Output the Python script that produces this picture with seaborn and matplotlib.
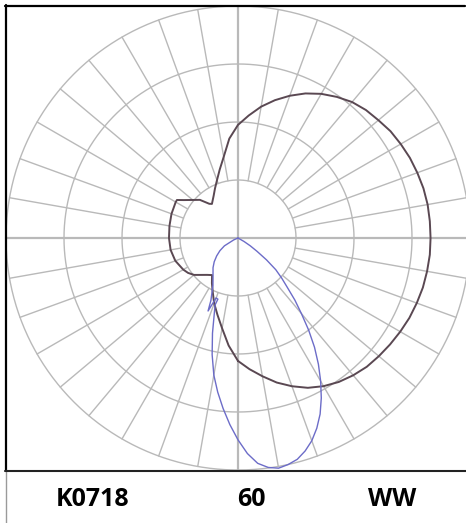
import numpy as np
import pandas as pd
import matplotlib
matplotlib.use("Agg")
import matplotlib.pyplot as plt
from matplotlib.lines import Line2D
import seaborn as sns

sns.set_style("white")
plt.rcParams['font.family'] = ['Open Sans', 'DejaVu Sans']

# ---- data (gamma angle in degrees: + = right half, - = left half; intensity in ring units) ----
dark_theta = [0, 5, 10, 15, 20, 25, 30, 35, 40, 45, 50, 55, 60, 65, 70, 75, 80, 85, 90, 95, 100,
              105, 110, 115, 120, 125, 130, 135, 140, 145, 150, 155, 160, 165, 170, 175, 180,
              -175, -170, -165, -160, -155, -150, -142.6, -140, -135, -130, -125, -121.9, -120,
              -110, -100, -90, -80, -70, -60, -55, -50, -45, -40, -35, -30, -25, -20, -15, -10,
              -5, 0]
dark_r = [2.12, 2.27, 2.42, 2.58, 2.72, 2.85, 2.95, 3.03, 3.09, 3.14, 3.17, 3.20, 3.23, 3.26, 3.28,
          3.30, 3.31, 3.32, 3.32, 3.32, 3.32, 3.31, 3.29, 3.27, 3.24, 3.21, 3.16, 3.12, 3.06, 2.97,
          2.87, 2.75, 2.61, 2.46, 2.30, 2.12, 1.95,
          1.72, 1.42, 1.22, 1.06, 0.94, 0.84, 0.74, 0.77, 0.93, 1.02, 1.14, 1.24, 1.24,
          1.22, 1.20, 1.19, 1.18, 1.15, 1.09, 1.05, 0.99, 0.90, 0.83, 0.78, 0.90, 1.03, 1.20,
          1.37, 1.58, 1.86, 2.12]

blue_theta = [62, 60, 57.5, 55, 52.5, 50, 47.5, 45, 42.5, 40, 37.5, 35, 32.5, 30, 27.5, 25, 22.5,
              20, 17.5, 15, 12.5, 10, 7.5, 5, 2.5, 0, -2.5, -5, -7.5, -10, -12.5, -15,
              -18.9, -18.2, -20.1, -22.3, -23.5, -28, -34, -40, -45, -50, -55, -60, -66, -68]
blue_r = [0.0, 0.12, 0.25, 0.40, 0.62, 0.85, 1.02, 1.20, 1.45, 1.70, 2.00, 2.30, 2.58, 2.85, 3.11,
          3.35, 3.55, 3.72, 3.85, 3.95, 4.00, 4.03, 3.99, 3.90, 3.72, 3.48, 3.22, 2.95, 2.68, 2.40,
          2.06, 1.70,
          1.22, 1.11, 1.10, 1.36, 1.17, 0.92, 0.77, 0.67, 0.58, 0.48, 0.38, 0.27, 0.08, 0.0]

labels = ["K0718", "60", "WW"]

ring_values = [1, 2, 3, 4]
spoke_step_deg = 10

# ---- figure ----
W, H = 466, 523
fig = plt.figure(figsize=(W / 100, H / 100), dpi=100)

cx, cy = 238.0, 238.0          # centre in px
ring_px = 58.0                 # px per ring unit
rmax = 4.1
half = rmax * ring_px
ax = fig.add_axes([(cx - half) / W, 1 - (cy + half) / H, 2 * half / W, 2 * half / H],
                  projection='polar')
ax.set_theta_zero_location('S')
ax.set_theta_direction(1)
ax.set_ylim(0, rmax)
ax.set_axis_off()

grid_col = '#b9b9b9'
full = np.linspace(0, 2 * np.pi, 721)
for rv in ring_values:
    ax.plot(full, np.full_like(full, rv), color=grid_col, lw=1.0, zorder=1)
for d in range(0, 360, spoke_step_deg):
    t = np.deg2rad(d)
    if d % 90 == 0:
        ax.plot([t, t], [0, 4.0], color=grid_col, lw=1.6, zorder=1)
    else:
        ax.plot([t, t], [1, 4.0], color=grid_col, lw=1.0, zorder=1)

dark_df = pd.DataFrame({"theta": np.deg2rad(dark_theta), "r": dark_r})
blue_df = pd.DataFrame({"theta": np.deg2rad(blue_theta), "r": blue_r})
sns.lineplot(data=dark_df, x="theta", y="r", sort=False, estimator=None, ax=ax,
             color='#5a4852', linewidth=1.4, zorder=3)
sns.lineplot(data=blue_df, x="theta", y="r", sort=False, estimator=None, ax=ax,
             color='#6c6cc8', linewidth=1.0, zorder=4)
ax.set_xlabel("")
ax.set_ylabel("")
ax.set_ylim(0, rmax)


def fx(x):
    return x / W


def fy(y):
    return 1 - y / H


# frame lines
fig.add_artist(Line2D([fx(5), fx(465)], [fy(5.5), fy(5.5)], color='black', lw=1.6,
                      transform=fig.transFigure, zorder=10))
fig.add_artist(Line2D([fx(5.5), fx(5.5)], [fy(5), fy(470)], color='black', lw=1.6,
                      transform=fig.transFigure, zorder=10))
fig.add_artist(Line2D([fx(5.5), fx(5.5)], [fy(470), fy(523)], color='#9a9a9a', lw=1.0,
                      transform=fig.transFigure, zorder=10))
fig.add_artist(Line2D([fx(5), fx(466)], [fy(470.5), fy(470.5)], color='#222222', lw=1.5,
                      transform=fig.transFigure, zorder=10))

# bottom labels
for lab, xp in zip(labels, [93, 251, 392]):
    fig.text(fx(xp), fy(499), lab, ha='center', va='center', fontsize=18,
             fontweight='bold', color='black')

fig.savefig("out.png", dpi=100, facecolor='white')
